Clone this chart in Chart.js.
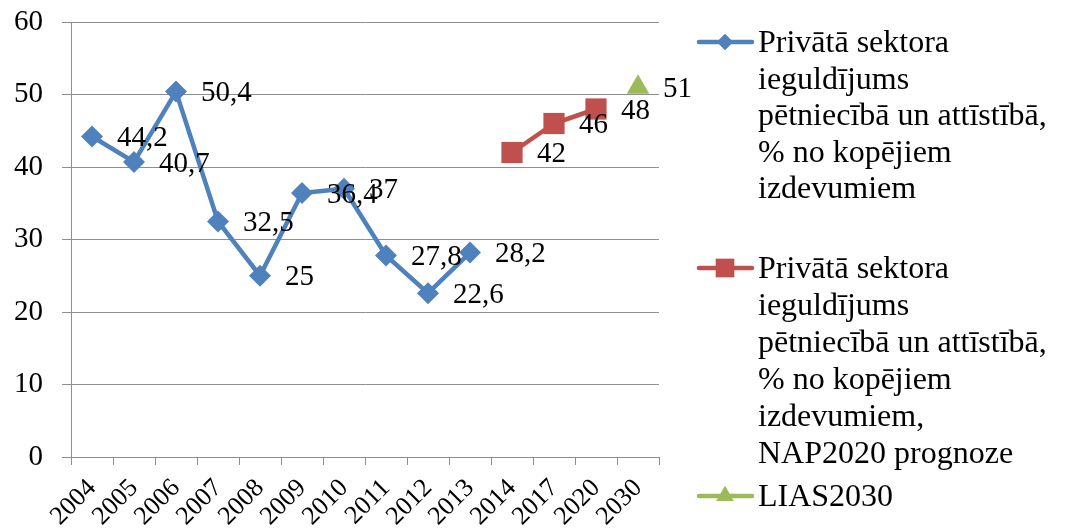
<!DOCTYPE html>
<html>
<head>
<meta charset="utf-8">
<script src="https://cdn.jsdelivr.net/npm/chart.js@4/dist/chart.umd.min.js"></script>
<style>
  html, body { margin: 0; padding: 0; background: #ffffff; }
  #wrap { width: 1066px; height: 528px; position: relative; }
</style>
</head>
<body>
<div id="wrap"><canvas id="c" width="1066" height="528"></canvas></div>
<script>
const categories = ['2004','2005','2006','2007','2008','2009','2010','2011','2012','2013','2014','2017','2020','2030'];
const privateActual = [44.2, 40.7, 50.4, 32.5, 25, 36.4, 37, 27.8, 22.6, 28.2, null, null, null, null];
const privateForecast = [null, null, null, null, null, null, null, null, null, null, 42, 46, 48, null];
const lias2030 = [null, null, null, null, null, null, null, null, null, null, null, null, null, 51];
const seriesNames = [
  ['Privātā sektora', 'ieguldījums', 'pētniecībā un attīstībā,', '% no kopējiem', 'izdevumiem'],
  ['Privātā sektora', 'ieguldījums', 'pētniecībā un attīstībā,', '% no kopējiem', 'izdevumiem,', 'NAP2020 prognoze'],
  ['LIAS2030']
];
const yTicks = [0, 10, 20, 30, 40, 50, 60];

const SERIF = "'Liberation Serif', 'Times New Roman', serif";
const GRID = '#8e8e8e';

const dataLabels = {
  id: 'dataLabels',
  afterDatasetsDraw(chart) {
    const ctx = chart.ctx;
    ctx.save();
    ctx.font = '29px ' + SERIF;
    ctx.fillStyle = '#000';
    ctx.textAlign = 'left';
    ctx.textBaseline = 'middle';
    chart.data.datasets.forEach((ds, di) => {
      const meta = chart.getDatasetMeta(di);
      meta.data.forEach((pt, i) => {
        const v = ds.data[i];
        if (v === null || v === undefined) return;
        ctx.fillText(String(v).replace('.', ','), pt.x + 25, pt.y + 2);
      });
    });
    ctx.restore();
  }
};

const customLegend = {
  id: 'customLegend',
  afterDraw(chart) {
    const ctx = chart.ctx;
    const blocks = [
      { markerY: 42, firstBase: 52, step: 36.5 },
      { markerY: 268, firstBase: 278, step: 37 },
      { markerY: 496, firstBase: 506, step: 37 }
    ];
    const markerR = [8, 13, 10];
    ctx.save();
    chart.data.datasets.forEach((ds, di) => {
      const b = blocks[di];
      ctx.strokeStyle = ds.borderColor;
      ctx.lineWidth = 4.5;
      ctx.lineCap = 'round';
      ctx.beginPath();
      ctx.moveTo(699, b.markerY);
      ctx.lineTo(752, b.markerY);
      ctx.stroke();
      ctx.fillStyle = ds.backgroundColor;
      Chart.helpers.drawPoint(ctx, { pointStyle: ds.pointStyle, radius: markerR[di], borderWidth: 0, rotation: 0 }, 725, b.markerY);
      ctx.fill();
      ctx.fillStyle = '#000';
      ctx.font = '32px ' + SERIF;
      ctx.textAlign = 'left';
      ctx.textBaseline = 'alphabetic';
      seriesNames[di].forEach((line, li) => {
        ctx.fillText(line, 758, b.firstBase + li * b.step);
      });
    });
    ctx.restore();
  }
};

new Chart(document.getElementById('c'), {
  type: 'line',
  data: {
    labels: categories,
    datasets: [
      { label: seriesNames[0].join(' '), data: privateActual, borderColor: '#4F81BD', backgroundColor: '#4F81BD',
        borderWidth: 4.5, pointStyle: 'rectRot', pointRadius: 11, pointBorderWidth: 0, spanGaps: false },
      { label: seriesNames[1].join(' '), data: privateForecast, borderColor: '#C0504D', backgroundColor: '#C0504D',
        borderWidth: 4.5, pointStyle: 'rect', pointRadius: 15, pointBorderWidth: 0, spanGaps: false },
      { label: seriesNames[2][0], data: lias2030, borderColor: '#9BBB59', backgroundColor: '#9BBB59',
        borderWidth: 4.5, pointStyle: 'triangle', pointRadius: 13, pointBorderWidth: 0 }
    ]
  },
  options: {
    responsive: false,
    animation: false,
    layout: { padding: { left: 0, top: 22, right: 407, bottom: 0 } },
    plugins: { legend: { display: false }, tooltip: { enabled: false } },
    scales: {
      x: {
        offset: true,
        afterFit(scale) { scale.height = 71; scale.paddingLeft = 0; scale.paddingRight = 0; scale.paddingTop = 0; scale.paddingBottom = 0; },
        grid: { offset: true, drawOnChartArea: false, drawTicks: true, tickLength: 8, color: GRID, tickColor: GRID, lineWidth: 1 },
        border: { display: true, color: GRID, width: 1 },
        ticks: { minRotation: 45, maxRotation: 45, autoSkip: false, padding: 8, color: '#000', font: { family: SERIF, size: 26 } }
      },
      y: {
        min: 0, max: 60,
        afterFit(scale) { scale.width = 71; scale.paddingTop = 0; scale.paddingBottom = 0; scale.paddingLeft = 0; scale.paddingRight = 0; },
        afterBuildTicks(scale) { scale.ticks = yTicks.map(v => ({ value: v })); },
        grid: { drawTicks: true, tickLength: 9, color: GRID, tickColor: GRID, lineWidth: 1 },
        border: { display: true, color: GRID, width: 1 },
        ticks: { padding: 19, color: '#000', font: { family: SERIF, size: 29 } }
      }
    }
  },
  plugins: [dataLabels, customLegend]
});
</script>
</body>
</html>
